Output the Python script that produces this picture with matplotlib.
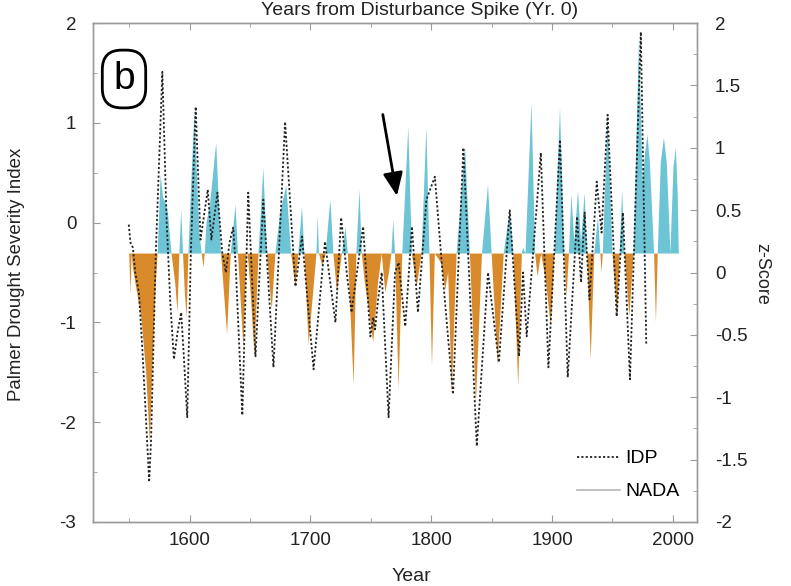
import numpy as np
import matplotlib
matplotlib.use("Agg")
import matplotlib.pyplot as plt
from matplotlib.lines import Line2D
from matplotlib.ticker import MultipleLocator, FuncFormatter

plt.rcParams['font.family'] = ['Liberation Sans', 'DejaVu Sans']
plt.rcParams['axes.unicode_minus'] = False

# NADA (filled, PDSI units) - turning points
nada_year = [1549, 1550, 1551, 1552, 1553, 1556, 1560, 1564, 1567, 1569, 1572, 1573.5,
             1576, 1578, 1580, 1582, 1585, 1588, 1590, 1591.5, 1593, 1594.5, 1596, 1597.5,
             1599, 1601, 1604, 1606, 1608, 1610, 1611.5, 1612.5, 1614, 1617, 1622, 1626,
             1631, 1634, 1638, 1640, 1644.5, 1647, 1648, 1650, 1653.7, 1657, 1661, 1664,
             1668, 1671, 1675, 1680, 1684, 1687.6, 1690, 1693, 1695, 1698.5, 1705, 1706,
             1707, 1710, 1712.5, 1716.5, 1719, 1722, 1726, 1729, 1731, 1735.8, 1738, 1740.6,
             1742.5, 1745, 1748, 1752, 1756, 1759, 1762, 1765, 1767, 1768.6, 1770, 1773,
             1776, 1781, 1784, 1788, 1792, 1796, 1798.5, 1800.6, 1803, 1808, 1811.6, 1814,
             1817, 1821, 1828, 1832, 1837, 1842, 1847, 1850, 1855, 1860, 1865, 1868,
             1872, 1875, 1876, 1878, 1883, 1886, 1888, 1891, 1895, 1899, 1902, 1906.6,
             1910, 1912, 1914, 1916, 1918.5, 1921.5, 1924, 1927, 1929, 1932, 1935, 1938,
             1940, 1941, 1942, 1946, 1950, 1954, 1956, 1958, 1960, 1964, 1967.5, 1972,
             1975, 1977, 1979, 1981, 1984.5, 1986, 1987.5, 1990, 1992.6, 1995, 1998,
             2000.5, 2002.5, 2004, 2005]
nada_pdsi = [-0.31, -0.31, -0.72, -0.31, -0.45, -0.67, -0.95, -1.5, -2.2, -1.5, -0.6, -0.31,
             0.48, 0.25, 0.2, 0.1, -0.31, -0.6, -0.9, -0.31, 0.13, -0.31, -0.7, -0.95,
             -0.31, 0.3, 1.12, 0.5, -0.1, -0.31, -0.45, -0.31, 0.0, 0.2, 0.8, -0.31,
             -1.12, -0.31, 0.18, -0.31, -1.25, -0.31, -0.31, -0.6, -1.34, -0.31, 0.55, -0.31,
             -0.87, -0.31, 0.1, 0.37, -0.31, -0.64, -0.31, 0.16, -0.31, -1.22, -0.31, 0.08,
             -0.31, -0.44, -0.31, 0.23, -0.31, -0.7, -0.31, -0.05, -0.31, -1.63, -0.31, 0.33,
             -0.31, -0.6, -0.85, -1.2, -0.6, -0.31, -0.7, -0.5, -0.31, 0.03, -0.31, -1.67,
             -0.31, 0.96, -0.31, -0.64, -0.31, 0.96, -0.31, -1.44, -0.31, -0.4, -0.67, -0.5,
             -1.7, -0.31, 0.76, -0.31, -1.8, -0.31, 0.38, -0.31, -1.42, -0.31, 0.13, -0.31,
             -1.64, -0.31, -0.25, -0.31, 1.2, -0.31, -0.54, -0.31, -0.6, -1.04, -0.31, 1.15,
             -0.31, -0.75, -0.31, 0.28, -0.2, 0.32, -0.2, 0.3, -0.31, -1.37, -0.31, 0.06,
             -0.31, -0.5, -0.31, 1.08, -0.31, -0.94, -0.31, 0.33, -0.31, -0.94, -0.31, 1.85,
             0.4, 0.7, 0.88, 0.6, -0.31, -1.0, -0.31, 0.6, 0.85, 0.6, -0.3,
             0.55, 0.75, 0.3, -0.35]

# IDP (dotted line, PDSI units)
idp_year = [1549.6, 1551, 1553, 1555, 1558, 1561, 1564, 1566.5, 1568, 1572, 1577.4, 1581,
            1584, 1587, 1590, 1593, 1595, 1598, 1601, 1605, 1609, 1615, 1618, 1623, 1627,
            1630, 1633, 1636, 1638, 1643.6, 1648.5, 1654.5, 1661, 1669.4, 1679, 1687.6, 1693,
            1702.6, 1712, 1720.7, 1725.4, 1730, 1734, 1743.6, 1749.6, 1752, 1753.5, 1756, 1759,
            1764.7, 1770, 1773, 1778.5, 1784, 1789, 1796, 1803, 1810, 1818, 1826.6, 1837.7,
            1847, 1856, 1865, 1872.7, 1876, 1879, 1890.7, 1897, 1906.6, 1913, 1920.7, 1924,
            1927, 1931, 1937, 1941, 1946, 1953.5, 1958.7, 1964.5, 1973.5, 1978]
idp_pdsi = [-0.02, -0.2, -0.25, -0.5, -0.7, -1.3, -2.0, -2.6, -2.2, -0.3, 1.51, 0.0,
            -0.8, -1.37, -1.1, -0.9, -1.3, -1.95, -0.3, 1.16, -0.17, 0.33, -0.17, 0.3, -0.3,
            -0.5, -0.2, -0.05, -0.4, -1.93, 0.3, -1.34, 0.23, -1.45, 1.01, -0.64, -0.14,
            -1.47, -0.19, -1.0, 0.05, -0.5, -0.9, -0.04, -1.14, -0.95, -1.07, -0.77, -0.5,
            -1.95, -0.5, -0.4, -1.04, -0.04, -0.9, 0.23, 0.46, -0.6, -1.72, 0.75, -2.24,
            -0.5, -1.4, 0.13, -1.34, -0.5, -1.14, 0.7, -1.45, 0.83, -1.55, 0.06, -0.6,
            0.1, -0.77, 0.41, -0.1, 1.08, -0.94, 0.1, -1.57, 1.91, -1.22]

baseline = -0.31
x_ticks = [1600, 1700, 1800, 1900, 2000]
blue = '#6cc4d5'
orange = '#d98b2c'
gray = '#9a9a9a'
txt = '#222222'

fig = plt.figure(figsize=(7.91, 5.86), dpi=100)
ax = fig.add_axes([93/791, 1-522/586, 604/791, 499/586])

yr = np.array(nada_year)
v = np.array(nada_pdsi)
ax.fill_between(yr, baseline, v, where=v >= baseline, interpolate=True,
                color=blue, lw=0)
ax.fill_between(yr, baseline, v, where=v <= baseline, interpolate=True,
                color=orange, lw=0)
ax.plot(idp_year, idp_pdsi, color=txt, lw=1.3, linestyle=(0, (1.2, 1.2)))

ax.set_xlim(1520, 2020)
ax.set_ylim(-3, 2)
ax.set_xticks(x_ticks)
ax.xaxis.set_minor_locator(MultipleLocator(50))
ax.yaxis.set_major_locator(MultipleLocator(1))
ax.yaxis.set_minor_locator(MultipleLocator(0.5))
ax.yaxis.set_major_formatter(FuncFormatter(lambda t, p: '%g' % t))

ax2 = ax.twinx()
ax2.set_ylim(-2, 2)
ax2.yaxis.set_major_locator(MultipleLocator(0.5))
ax2.yaxis.set_minor_locator(MultipleLocator(0.25))
ax2.yaxis.set_major_formatter(FuncFormatter(lambda t, p: '%g' % t))

for a in (ax, ax2):
    for s in a.spines.values():
        s.set_color(gray)
        s.set_linewidth(1.0)
ax.tick_params(which='both', direction='in', color=gray, top=True, right=False,
               labelsize=13.5, labelcolor=txt)
ax.tick_params(which='major', length=5)
ax.tick_params(which='minor', length=3)
ax.tick_params(axis='x', pad=7)
ax.tick_params(axis='y', pad=12)
ax2.tick_params(which='both', direction='in', color=gray, labelsize=13.5,
                labelcolor=txt, pad=13)
ax2.tick_params(which='major', length=5)
ax2.tick_params(which='minor', length=3)

# labels
fig.text(17/791, 1-274/586, 'Palmer Drought Severity Index', rotation=90,
         ha='center', va='center', fontsize=13.4, color=txt)
fig.text(762/791, 1-274/586, 'z-Score', rotation=-90,
         ha='center', va='center', fontsize=13, color=txt)
fig.text(411/791, 1-581/586, 'Year', ha='center', va='baseline',
         fontsize=14, color=txt)
fig.text(420/791, 1-15/586, 'Years from Disturbance Spike (Yr. 0)', ha='center',
         va='baseline', fontsize=14, color=txt)

# panel letter
ax.text(124/791, 1-79/586, 'b', transform=fig.transFigure, ha='center', va='center',
        fontsize=28, bbox=dict(boxstyle='round,pad=0.28,rounding_size=0.5',
                               fc='white', ec='black', lw=2))

# arrow
ax.annotate('', xy=(1772, 0.24), xytext=(1759.5, 1.11),
            arrowprops=dict(arrowstyle='-|>,head_length=0.7,head_width=0.3',
                            color='black', lw=2, mutation_scale=20))

handles = [Line2D([], [], color=txt, lw=1.3, linestyle=(0, (1.2, 1.2))),
           Line2D([], [], color='#b5b5b5', lw=1.2)]
ax2.legend(handles, ['IDP', 'NADA'], loc='upper left', frameon=False,
           bbox_to_anchor=(567/791, 1-440/586), bbox_transform=fig.transFigure,
           borderpad=0, handlelength=2.2, handletextpad=0.3, labelspacing=0.8,
           fontsize=14)

fig.savefig('out.png', dpi=100)
